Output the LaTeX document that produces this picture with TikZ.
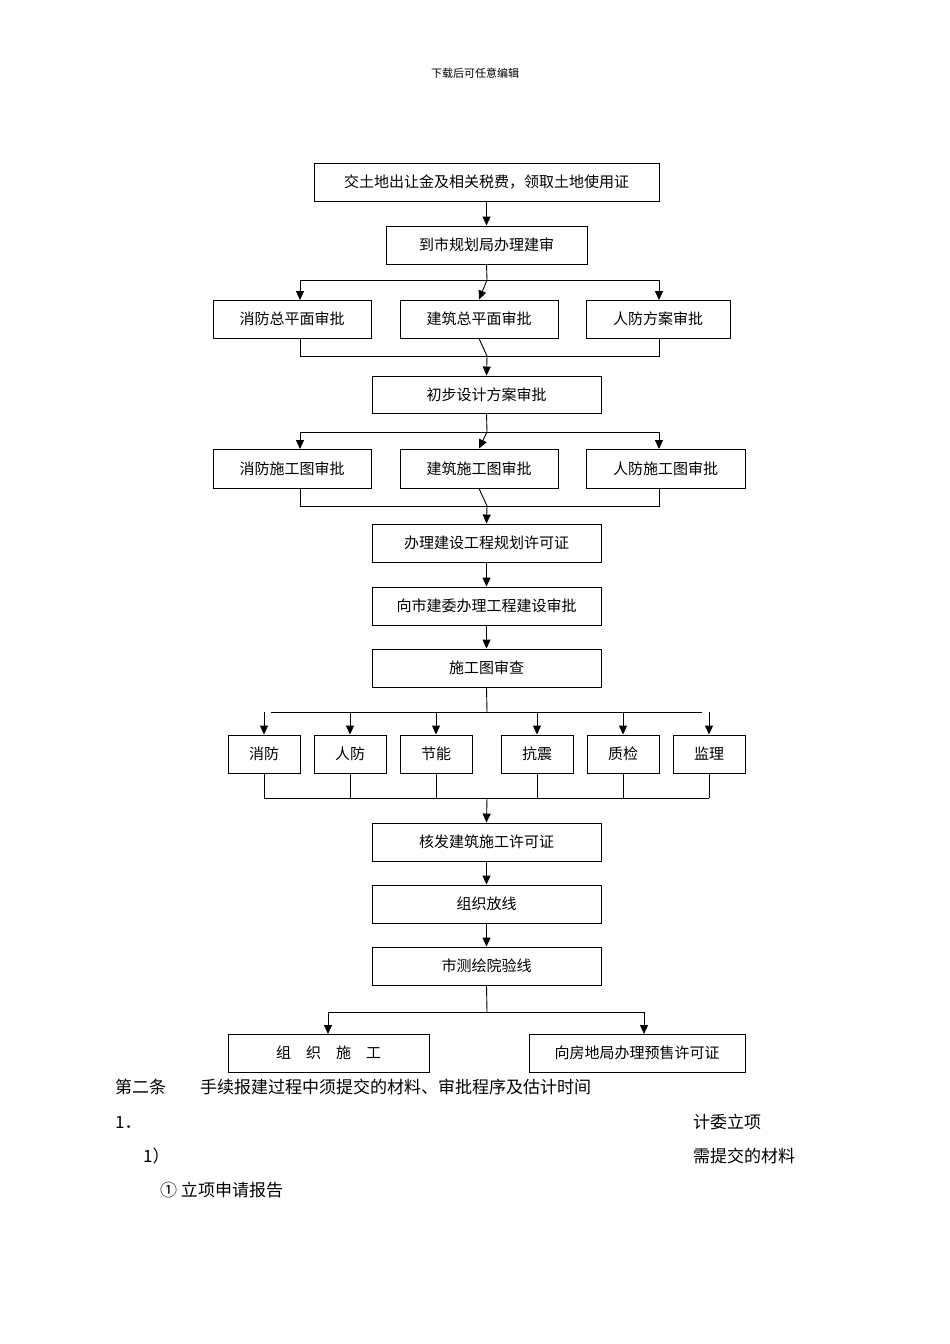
\documentclass[tikz,border=0pt]{standalone}
\usepackage{fontspec}
\setmainfont{Noto Sans CJK SC}
\usetikzlibrary{arrows.meta}
\begin{document}
\begin{tikzpicture}[x=1pt,y=-1pt,
 bx/.style={draw,line width=0.9pt,inner sep=0pt,font=\fontsize{15}{17}\selectfont},
 ar/.style={-{Triangle[length=9pt,width=8pt]},line width=0.9pt},
 ln/.style={line width=0.9pt},
 tx/.style={anchor=west,inner sep=0pt,font=\fontsize{17}{19}\selectfont}]
\useasboundingbox (0,0) rectangle (950,1344);
\newcommand{\bxx}[6]{\node[bx,minimum width=#4-#2,minimum height=#5-#3] (#1) at ({(#2+#4)/2},{(#3+#5)/2}) {#6};}
\node[font=\fontsize{11}{13}\selectfont] (hd) at (475,73) {下载后可任意编辑};
\bxx{A}{314}{163}{659}{201}{交土地出让金及相关税费，领取土地使用证}
\bxx{B}{386}{226}{587}{264}{到市规划局办理建审}
\bxx{r1a}{213}{300}{371}{338}{消防总平面审批}
\bxx{r1b}{400}{300}{558}{338}{建筑总平面审批}
\bxx{r1c}{586}{300}{730}{338}{人防方案审批}
\bxx{C}{372}{376}{601}{413}{初步设计方案审批}
\bxx{r2a}{213}{449}{371}{488}{消防施工图审批}
\bxx{r2b}{400}{449}{558}{488}{建筑施工图审批}
\bxx{r2c}{586}{449}{745}{488}{人防施工图审批}
\bxx{D}{372}{524}{601}{562}{办理建设工程规划许可证}
\bxx{E}{372}{587}{601}{625}{向市建委办理工程建设审批}
\bxx{F}{372}{649}{601}{687}{施工图审查}
\bxx{s1}{228}{735}{300}{773}{消防}
\bxx{s2}{314}{735}{386}{773}{人防}
\bxx{s3}{400}{735}{472}{773}{节能}
\bxx{s4}{501}{735}{573}{773}{抗震}
\bxx{s5}{587}{735}{659}{773}{质检}
\bxx{s6}{673}{735}{745}{773}{监理}
\bxx{G}{372}{823}{601}{861}{核发建筑施工许可证}
\bxx{H}{372}{885}{601}{923}{组织放线}
\bxx{I}{372}{947}{601}{985}{市测绘院验线}
\bxx{J}{228}{1034}{429}{1072}{组\quad 织\quad 施\quad 工}
\bxx{K}{529}{1034}{745}{1072}{向房地局办理预售许可证}
\draw[ar] (A) -- (B);
% row1
\coordinate (b1) at (487,280);
\draw[ln] (B.south) -- (b1);
\draw[ar] (300,280) -- (300,300);
\draw[ar] (487,280) -- (r1b.north);
\draw[ar] (659,280) -- (659,300);
\draw[ln] (300,280) -- (659,280);
\draw[ln] (300,338) -- (300,356) -- (659,356) -- (659,338);
\draw[ln] (r1b.south) -- (487,356);
\draw[ar] (487,356) -- (C.north);
% row2
\draw[ln] (C.south) -- (487,432);
\draw[ln] (300,432) -- (659,432);
\draw[ar] (300,432) -- (300,449);
\draw[ar] (487,432) -- (r2b.north);
\draw[ar] (659,432) -- (659,449);
\draw[ln] (300,488) -- (300,506) -- (659,506) -- (659,488);
\draw[ln] (r2b.south) -- (487,506);
\draw[ar] (487,506) -- (D.north);
\draw[ar] (D) -- (E);
\draw[ar] (E) -- (F);
% six
\draw[ln] (F.south) -- (487,712);
\draw[ln] (271,712) -- (702,712);
\foreach \x/\n in {264/s1,350/s2,436/s3,537/s4,623/s5,709/s6}{
 \draw[ar] (\n.north |- 0,712) -- (\n.north);
 \draw[ln] (\n.south) -- (\n.south |- 0,798);}
\draw[ln] (s1.south |- 0,798) -- (s6.south |- 0,798);
\draw[ar] (487,798) -- (G.north);
\draw[ar] (G) -- (H);
\draw[ar] (H) -- (I);
\draw[ln] (I.south) -- (487,1012);
\draw[ln] (328,1012) -- (644,1012);
\draw[ar] (328,1012) -- (328,1034);
\draw[ar] (644,1012) -- (644,1034);
% text
\node[tx] (t1) at (115,1087) {第二条};
\node[tx] (t2) at (200,1087) {手续报建过程中须提交的材料、审批程序及估计时间};
\node[tx] (t3) at (115,1122) {1．};
\node[tx] (t4) at (693,1122) {计委立项};
\node[tx] (t5) at (143,1156) {1）};
\node[tx] (t6) at (693,1156) {需提交的材料};
\node[tx] (t7) at (160,1190) {①\ 立项申请报告};
\end{tikzpicture}
\end{document}
